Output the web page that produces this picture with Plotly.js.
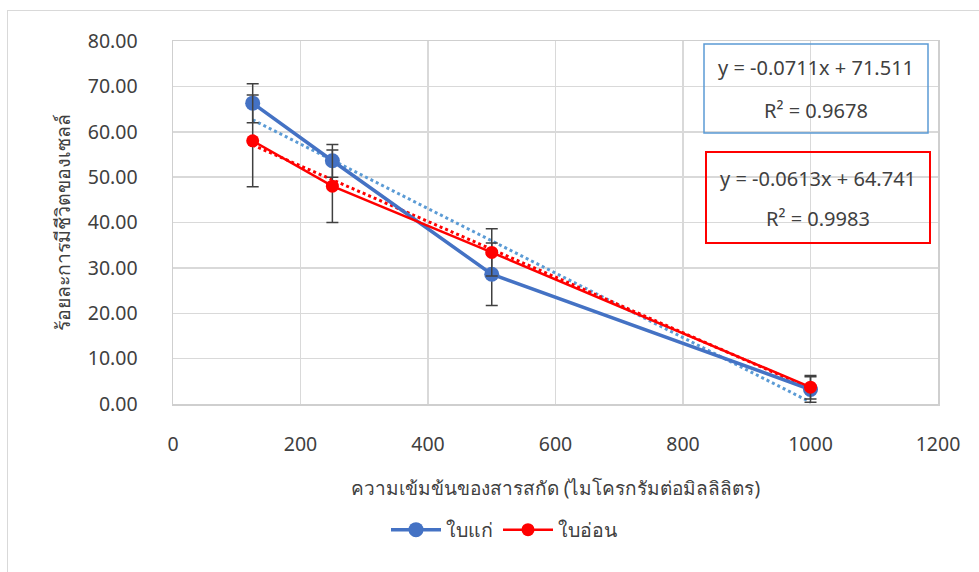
<!DOCTYPE html>
<html>
<head>
<meta charset="utf-8">
<script src="https://cdn.plot.ly/plotly-3.0.1.min.js"></script>
<style>
html,body{margin:0;padding:0;background:#fff;}
#wrap{position:relative;width:979px;height:572px;}
#chart{width:979px;height:572px;}
#frame{position:absolute;left:7px;top:10px;width:972px;height:562px;border-left:1.5px solid #d9d9d9;border-top:1.5px solid #d9d9d9;pointer-events:none;}
</style>
</head>
<body>
<div id="wrap"><div id="chart"></div><div id="frame"></div></div>
<script>
// Data
const concentrations = [125, 250, 500, 1000];
const oldLeaf = [66.3, 53.6, 28.6, 3.2];        // ใบแก่
const oldLeafErr = [4.3, 3.6, 6.9, 2.8];
const youngLeaf = [58.0, 48.0, 33.4, 3.7];      // ใบอ่อน
const youngLeafErr = [10.1, 8.0, 5.2, 2.6];
const seriesNames = ['ใบแก่', 'ใบอ่อน'];
const trendSlope = [-0.0711, -0.0613];
const trendIntercept = [71.511, 64.741];
const trendR2 = ['0.9678', '0.9983'];
const trendX = [125, 1000];
const yTicks = [0, 10, 20, 30, 40, 50, 60, 70, 80];
const xTicks = [0, 200, 400, 600, 800, 1000, 1200];

const FONT = 'Tahoma, "Leelawadee UI", "Noto Sans", "DejaVu Sans", sans-serif';
const blue = '#4472C4', blueTrend = '#5B9BD5', red = '#FF0000', errColor = '#404040';

const trendY = (i) => trendX.map(x => trendSlope[i] * x + trendIntercept[i]);

const traces = [
  {x: trendX, y: trendY(0), mode: 'lines', line: {color: blueTrend, width: 3, dash: 'dot'}, showlegend: false, hoverinfo: 'skip'},
  {x: trendX, y: trendY(1), mode: 'lines', line: {color: red, width: 3, dash: 'dot'}, showlegend: false, hoverinfo: 'skip'},
  {x: concentrations, y: oldLeaf, name: seriesNames[0], mode: 'lines+markers',
   line: {color: blue, width: 3.5}, marker: {color: blue, size: 15},
   error_y: {type: 'data', array: oldLeafErr, visible: true, color: errColor, thickness: 1.5, width: 6}},
  {x: concentrations, y: youngLeaf, name: seriesNames[1], mode: 'lines+markers',
   line: {color: red, width: 2.5}, marker: {color: red, size: 13},
   error_y: {type: 'data', array: youngLeafErr, visible: true, color: errColor, thickness: 1.5, width: 6}}
];

const L = 173, R = 938, T = 41, B = 404;
const px = (x) => (x - L) / (R - L);
const py = (y) => (B - y) / (B - T);

const fmtEq = (i) => 'y = ' + trendSlope[i].toFixed(4) + 'x + ' + trendIntercept[i].toFixed(3);
const annFont = {size: 20, color: '#404040', family: FONT};

const layout = {
  width: 979, height: 572,
  margin: {l: L, r: 979 - R, t: T, b: 572 - B},
  paper_bgcolor: '#fff', plot_bgcolor: '#fff',
  font: {family: FONT, color: '#404040', size: 19},
  xaxis: {
    range: [0, 1200], tickvals: xTicks, ticktext: xTicks.map(String),
    showgrid: true, gridcolor: '#d9d9d9', gridwidth: 1.5,
    showline: true, mirror: true, linecolor: '#cfcfcf', linewidth: 1.5,
    zeroline: false, ticks: '', ticklabelstandoff: 22,
    tickfont: {size: 19.5, color: '#404040', family: FONT},
    title: {text: 'ความเข้มข้นของสารสกัด (ไมโครกรัมต่อมิลลิลิตร)', font: {size: 19, color: '#404040', family: FONT}, standoff: 26}
  },
  yaxis: {
    range: [0, 80], tickvals: yTicks, ticktext: yTicks.map(v => v.toFixed(2)),
    showgrid: true, gridcolor: '#d9d9d9', gridwidth: 1.5,
    showline: true, mirror: true, linecolor: '#cfcfcf', linewidth: 1.5,
    zeroline: false, ticks: '', ticklabelstandoff: 30,
    tickfont: {size: 19.5, color: '#404040', family: FONT},
    title: {text: 'ร้อยละการมีชีวิตของเซลล์', font: {size: 19.5, color: '#404040', family: FONT}, standoff: 12}
  },
  legend: {orientation: 'h', x: px(504), xanchor: 'center', y: py(530), yanchor: 'middle',
           font: {size: 19.5, color: '#404040', family: FONT}, itemwidth: 50, tracegroupgap: 0},
  shapes: [
    {type: 'rect', xref: 'paper', yref: 'paper', x0: px(704), x1: px(928), y0: py(133), y1: py(44),
     line: {color: blueTrend, width: 1.5}, fillcolor: 'rgba(255,255,255,0)'},
    {type: 'rect', xref: 'paper', yref: 'paper', x0: px(706), x1: px(930), y0: py(243), y1: py(152),
     line: {color: red, width: 2}, fillcolor: 'rgba(255,255,255,0)'}
  ],
  annotations: [
    {xref: 'paper', yref: 'paper', x: px(816), y: py(68), text: fmtEq(0), showarrow: false, xanchor: 'center', yanchor: 'middle', font: annFont},
    {xref: 'paper', yref: 'paper', x: px(816), y: py(110), text: 'R² = ' + trendR2[0], showarrow: false, xanchor: 'center', yanchor: 'middle', font: annFont},
    {xref: 'paper', yref: 'paper', x: px(818), y: py(178), text: fmtEq(1), showarrow: false, xanchor: 'center', yanchor: 'middle', font: annFont},
    {xref: 'paper', yref: 'paper', x: px(818), y: py(219), text: 'R² = ' + trendR2[1], showarrow: false, xanchor: 'center', yanchor: 'middle', font: annFont}
  ]
};

Plotly.newPlot('chart', traces, layout, {displayModeBar: false, staticPlot: true});
</script>
</body>
</html>
